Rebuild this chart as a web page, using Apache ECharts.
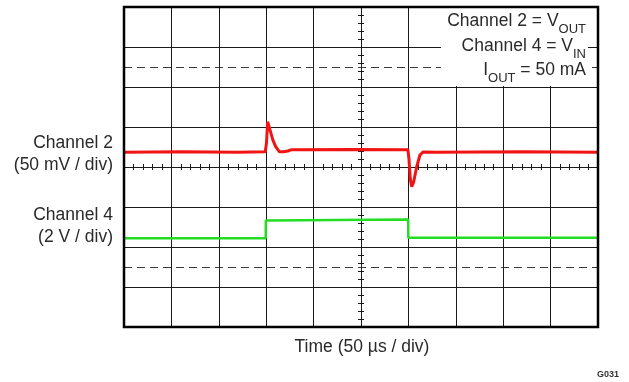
<!DOCTYPE html>
<html>
<head>
<meta charset="utf-8">
<script src="https://cdn.jsdelivr.net/npm/echarts@6/dist/echarts.min.js"></script>
<style>
  html, body { margin: 0; padding: 0; background: #fff; }
  #chart { width: 629px; height: 382px; }
</style>
</head>
<body>
<div id="chart"></div>
<script>
// time axis: 50 us / div, 10 divisions
const timeMin = 0;
const timeMax = 500;
const timeStep = 50;
// vertical scale in screen divisions (8 divisions, 0 = bottom)
const divMin = 0;
const divMax = 8;

// Channel 2 = VOUT (red), in divisions
const redTime = [0, 60, 120, 149, 150.3, 151.5, 154, 157, 160, 164, 168, 173, 176, 240, 299.5, 300.6, 302, 303.5, 305.5, 308.7, 312.2, 315.4, 330, 420, 500];
const redDiv  = [4.37, 4.38, 4.37, 4.38, 4.6, 5.13, 4.93, 4.68, 4.51, 4.38, 4.38, 4.4, 4.43, 4.44, 4.43, 4.2, 3.7, 3.51, 3.62, 4.0, 4.3, 4.375, 4.37, 4.38, 4.37];

// Channel 4 = VIN (green), in divisions (small glitches on the low level)
const greenTime = [0, 20, 20.4, 20.8, 50, 50.4, 50.8, 87, 87.4, 87.8, 117, 117.4, 117.8, 128, 128.4, 128.8, 149.5, 149.6, 299.8, 299.9, 500];
const greenDiv  = [2.22, 2.22, 2.27, 2.22, 2.22, 2.27, 2.22, 2.22, 2.27, 2.22, 2.22, 2.27, 2.22, 2.22, 2.27, 2.22, 2.22, 2.66, 2.69, 2.23, 2.23];

// dashed reference markers
const markerDiv = [6.5, 1.5];

const labelFont = 'Liberation Sans, Arial, sans-serif';
const textColor = '#2a2a2a';

// measure text so sub-scripted runs can be right aligned
const measureCtx = document.createElement('canvas').getContext('2d');
function textWidth(str, size) {
  measureCtx.font = size + 'px ' + labelFont;
  return measureCtx.measureText(str).width;
}

// one legend line: [text, isSub] runs, right edge at rightX, caps centred at cy
function legendLine(runs, rightX, cy) {
  let out = [];
  let x = rightX;
  for (let i = runs.length - 1; i >= 0; i--) {
    let [str, sub] = runs[i];
    let size = sub ? 13 : 17.5;
    x -= textWidth(str, size);
    out.push({
      type: 'text',
      z: 7,
      x: x,
      y: sub ? cy + 8 : cy,
      style: {
        text: str,
        fontFamily: labelFont,
        fontSize: size,
        fill: textColor,
        align: 'left',
        verticalAlign: 'middle'
      }
    });
  }
  return out;
}

function label(str, x, y, align) {
  return {
    type: 'text',
    z: 7,
    x: x,
    y: y,
    style: {
      text: str,
      fontFamily: labelFont,
      fontSize: 17.5,
      fill: textColor,
      align: align,
      verticalAlign: 'middle'
    }
  };
}

let myChart = echarts.init(document.getElementById('chart'));

myChart.setOption({
  animation: false,
  grid: {
    left: 124,
    top: 7,
    width: 474,
    height: 320,
    show: true,
    z: 8,
    borderColor: '#000',
    borderWidth: 2.5,
    backgroundColor: 'transparent'
  },
  xAxis: [
    {
      type: 'value',
      min: timeMin,
      max: timeMax,
      interval: timeStep,
      axisLine: { show: false },
      axisTick: { show: false },
      axisLabel: { show: false },
      splitLine: { show: true, lineStyle: { color: '#1a1a1a', width: 1 } }
    },
    {
      type: 'value',
      position: 'top',
      offset: -160,
      min: timeMin,
      max: timeMax,
      interval: 10,
      axisLine: { show: true, onZero: false, lineStyle: { color: '#1a1a1a', width: 1 } },
      axisTick: { show: true, length: 3, lineStyle: { color: '#1a1a1a' } },
      axisLabel: { show: false },
      splitLine: { show: false }
    },
    {
      type: 'value',
      position: 'bottom',
      offset: -160,
      min: timeMin,
      max: timeMax,
      interval: 10,
      axisLine: { show: false, onZero: false },
      axisTick: { show: true, length: 3, lineStyle: { color: '#1a1a1a' } },
      axisLabel: { show: false },
      splitLine: { show: false }
    }
  ],
  yAxis: [
    {
      type: 'value',
      min: divMin,
      max: divMax,
      interval: 1,
      axisLine: { show: false },
      axisTick: { show: false },
      axisLabel: { show: false },
      splitLine: { show: true, lineStyle: { color: '#1a1a1a', width: 1 } }
    },
    {
      type: 'value',
      position: 'left',
      offset: -237,
      min: divMin,
      max: divMax,
      interval: 0.2,
      axisLine: { show: true, onZero: false, lineStyle: { color: '#1a1a1a', width: 1 } },
      axisTick: { show: true, length: 3, lineStyle: { color: '#1a1a1a' } },
      axisLabel: { show: false },
      splitLine: { show: false }
    },
    {
      type: 'value',
      position: 'right',
      offset: -237,
      min: divMin,
      max: divMax,
      interval: 0.2,
      axisLine: { show: false, onZero: false },
      axisTick: { show: true, length: 3, lineStyle: { color: '#1a1a1a' } },
      axisLabel: { show: false },
      splitLine: { show: false }
    }
  ],
  series: [
    {
      type: 'line',
      name: 'Channel 2',
      data: redTime.map((t, i) => [t, redDiv[i]]),
      showSymbol: false,
      lineStyle: { color: '#f01414', width: 3 },
      z: 3,
      markLine: {
        silent: true,
        symbol: 'none',
        z: 4,
        label: { show: false },
        lineStyle: { color: '#3a3a3a', type: [8, 5], width: 1.2 },
        data: markerDiv.map(v => ({ yAxis: v }))
      }
    },
    {
      type: 'line',
      name: 'Channel 4',
      data: greenTime.map((t, i) => [t, greenDiv[i]]),
      showSymbol: false,
      lineStyle: { color: '#22dd22', width: 2.5 },
      z: 3
    }
  ],
  graphic: [
    {
      type: 'rect',
      z: 6,
      shape: { x: 441, y: 8, width: 147, height: 78 },
      style: { fill: '#fff' }
    },
    ...legendLine([['Channel 2 = V', false], ['OUT', true]], 586, 21),
    ...legendLine([['Channel 4 = V', false], ['IN', true]], 586, 46),
    ...legendLine([['I', false], ['OUT', true], [' = 50 mA', false]], 586, 70),
    label('Channel 2', 113, 143, 'right'),
    label('(50 mV / div)', 113, 165, 'right'),
    label('Channel 4', 113, 215, 'right'),
    label('(2 V / div)', 113, 237, 'right'),
    label('Time (50 \u00b5s / div)', 362, 347, 'center'),
    {
      type: 'text',
      z: 7,
      x: 619,
      y: 375,
      style: {
        text: 'G031',
        fontFamily: labelFont,
        fontSize: 9,
        fontWeight: 'bold',
        fill: '#333',
        align: 'right',
        verticalAlign: 'middle'
      }
    }
  ]
});
</script>
</body>
</html>
